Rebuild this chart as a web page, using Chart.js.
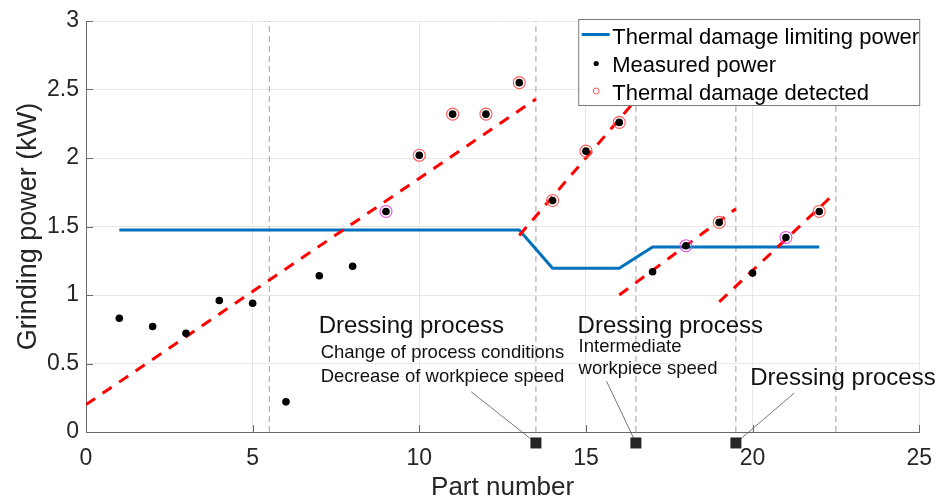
<!DOCTYPE html>
<html><head><meta charset="utf-8">
<script src="https://cdn.jsdelivr.net/npm/chart.js@4.4.1/dist/chart.umd.min.js"></script>
<style>html,body{margin:0;padding:0;background:#fff;}#wrap{width:945px;height:501px;position:relative;}</style>
</head><body><div id="wrap"><canvas id="c" width="945" height="501"></canvas></div>
<script>
// ---- data ----
const parts = [1,2,3,4,5,6,7,8,9,10,11,12,13,14,15,16,17,18,19,20,21,22];
const measuredPower = [0.83,0.77,0.72,0.96,0.94,0.22,1.14,1.21,1.61,2.02,2.32,2.32,2.55,1.69,2.05,2.26,1.17,1.36,1.53,1.16,1.42,1.61];
const damageParts = [9,10,11,12,13,14,15,16,18,19,21,22];
const damageMagentaParts = [9,18,21];
const limitParts = [1,13,14,16,17,22];
const limitPower = [1.475,1.475,1.195,1.195,1.35,1.35];
const trend1Parts = [0,13.5],   trend1Power = [0.2,2.43];
const trend2Parts = [13,16.45], trend2Power = [1.435,2.41];
const trend3Parts = [16,19.5],  trend3Power = [1.0,1.63];
const trend4Parts = [19,22.5],  trend4Power = [0.95,1.75];
const dressingParts = [5.5,13.5,16.5,19.5,22.5];
const markerParts = [13.5,16.5,19.5];
const markerLevel = -0.08;
const calloutParts = [11.56,15.62,21.25];
const calloutPower = [0.293,0.37,0.284];
const xTicks = [0,5,10,15,20,25];
const yTicks = [0,0.5,1,1.5,2,2.5,3];
const yTickLabels = ['0','0.5','1','1.5','2','2.5','3'];
const legendLabels = ['Thermal damage limiting power','Measured power','Thermal damage detected'];
const xTitle = 'Part number';
const yTitle = 'Grinding power (kW)';
const notes = [
  {text:'Dressing process', x:6.98, y:0.72, size:24},
  {text:'Change of process conditions', x:7.04, y:0.54, size:18.5},
  {text:'Decrease of workpiece speed', x:7.04, y:0.365, size:18.5},
  {text:'Dressing process', x:14.75, y:0.72, size:24},
  {text:'Intermediate', x:14.78, y:0.585, size:18.5},
  {text:'workpiece speed', x:14.78, y:0.42, size:18.5},
  {text:'Dressing process', x:19.93, y:0.342, size:24}
];

// ---- build datasets ----
const FONT = "'Liberation Sans', Arial, sans-serif";
const BLUE = '#0072BD';
const pts = (xs, ys) => xs.map((x,i)=>({x, y: ys[i]}));
const datasets = [];
dressingParts.forEach(d => datasets.push({
  data:[{x:d,y:yTicks[0]},{x:d,y:yTicks[yTicks.length-1]}], showLine:true, pointRadius:0,
  borderColor:'#a0a0a0', borderWidth:1, borderDash:[6,4], order:20
}));
datasets.push({data: pts(limitParts, limitPower), showLine:true, pointRadius:0,
  borderColor:BLUE, borderWidth:3, order:15});
[[trend1Parts,trend1Power],[trend2Parts,trend2Power],[trend3Parts,trend3Power],[trend4Parts,trend4Power]].forEach(([a,b]) =>
  datasets.push({data: pts(a,b), showLine:true, pointRadius:0, borderColor:'#ff0000',
    borderWidth:3, borderDash:[11,9], order:14}));
markerParts.forEach((m,i) => datasets.push({
  data:[{x:m,y:markerLevel},{x:calloutParts[i],y:calloutPower[i]}], showLine:true, pointRadius:0,
  borderColor:'#555', borderWidth:0.8, clip:false, order:12}));
datasets.push({data: pts(parts, measuredPower), pointRadius:3.8, pointBackgroundColor:'#000',
  pointBorderWidth:0, order:5});
const damagePts = damageParts.map(p => ({x:p, y: measuredPower[parts.indexOf(p)]}));
datasets.push({data: damagePts, pointRadius:6, pointBackgroundColor:'rgba(0,0,0,0)',
  pointBorderColor: damageParts.map(p => damageMagentaParts.includes(p) ? '#e64ce6' : '#ff5a5a'),
  pointBorderWidth:1.1, order:4});

const overlay = {
  id:'overlay',
  afterDatasetsDraw(chart){
    const {ctx, chartArea:a, scales:{x,y}} = chart;
    ctx.save();
    ctx.strokeStyle = '#6a6a6a'; ctx.lineWidth = 1;
    xTicks.forEach(t => { const px = Math.round(x.getPixelForValue(t))+0.5;
      ctx.beginPath(); ctx.moveTo(px, a.bottom); ctx.lineTo(px, a.bottom-7); ctx.stroke(); });
    yTicks.forEach(t => { const py = Math.round(y.getPixelForValue(t))+0.5;
      ctx.beginPath(); ctx.moveTo(a.left, py); ctx.lineTo(a.left+7, py); ctx.stroke(); });
    // square markers below the axis (outside the plot area)
    ctx.fillStyle = '#262626';
    markerParts.forEach(m => { const px = x.getPixelForValue(m), py = y.getPixelForValue(markerLevel);
      ctx.fillRect(px-5.5, py-5.5, 11, 11); });
    ctx.fillStyle = '#111'; ctx.textBaseline = 'alphabetic'; ctx.textAlign = 'left';
    notes.forEach(n => { ctx.font = n.size + 'px ' + FONT;
      ctx.fillText(n.text, x.getPixelForValue(n.x), y.getPixelForValue(n.y)); });
    ctx.restore();
  },
  afterDraw(chart){
    const {ctx, chartArea:a} = chart;
    ctx.save();
    const bw = 341, bh = 86, bx = a.right - bw + 0.5, by = a.top - 1.5;
    ctx.fillStyle = '#fff'; ctx.fillRect(bx, by, bw, bh);
    ctx.strokeStyle = '#7a7a7a'; ctx.lineWidth = 1; ctx.strokeRect(bx, by, bw, bh);
    ctx.font = '22px ' + FONT; ctx.fillStyle = '#000'; ctx.textBaseline = 'alphabetic';
    const rows = [by+24, by+52.5, by+80];
    ctx.strokeStyle = BLUE; ctx.lineWidth = 3;
    ctx.beginPath(); ctx.moveTo(bx+3, rows[0]-9); ctx.lineTo(bx+31, rows[0]-9); ctx.stroke();
    ctx.fillStyle = '#000'; ctx.beginPath(); ctx.arc(bx+17.5, rows[1]-8.5, 2.6, 0, Math.PI*2); ctx.fill();
    ctx.strokeStyle = '#ff5a5a'; ctx.lineWidth = 1;
    ctx.beginPath(); ctx.arc(bx+17.5, rows[2]-8.5, 3, 0, Math.PI*2); ctx.stroke();
    ctx.fillStyle = '#000';
    legendLabels.forEach((l,i) => ctx.fillText(l, bx+33.5, rows[i]));
    ctx.restore();
  }
};

Chart.defaults.font.family = FONT;
new Chart(document.getElementById('c'), {
  type:'scatter',
  data:{datasets},
  options:{
    responsive:false, animation:false, devicePixelRatio:1,
    layout:{padding:{top:21, right:25, left:0, bottom:0}},
    plugins:{legend:{display:false}, tooltip:{enabled:false}},
    scales:{
      x:{type:'linear', min:xTicks[0], max:xTicks[xTicks.length-1],
        afterBuildTicks: s => { s.ticks = xTicks.map(v=>({value:v})); },
        afterFit: s => { s.height = 69; },
        ticks:{font:{size:23}, color:'#262626', padding:13, maxRotation:0, autoSkip:false,
          callback: v => String(v)},
        grid:{color:'#e8e8e8', lineWidth:1, drawTicks:false},
        border:{color:'#6a6a6a', width:1},
        title:{display:true, text:xTitle, font:{size:26, lineHeight:1}, color:'#262626', padding:{top:0,bottom:0}}
      },
      y:{type:'linear', min:yTicks[0], max:yTicks[yTicks.length-1],
        afterBuildTicks: s => { s.ticks = yTicks.map(v=>({value:v})); },
        afterFit: s => { s.width = 86; },
        ticks:{font:{size:23}, color:'#262626', padding:7, autoSkip:false,
          callback: v => yTickLabels[yTicks.indexOf(v)] ?? String(v)},
        grid:{color:'#e8e8e8', lineWidth:1, drawTicks:false},
        border:{color:'#6a6a6a', width:1},
        title:{display:true, text:yTitle, font:{size:27, lineHeight:1}, color:'#262626', padding:{top:15,bottom:0}}
      }
    }
  },
  plugins:[overlay]
});
</script></body></html>
